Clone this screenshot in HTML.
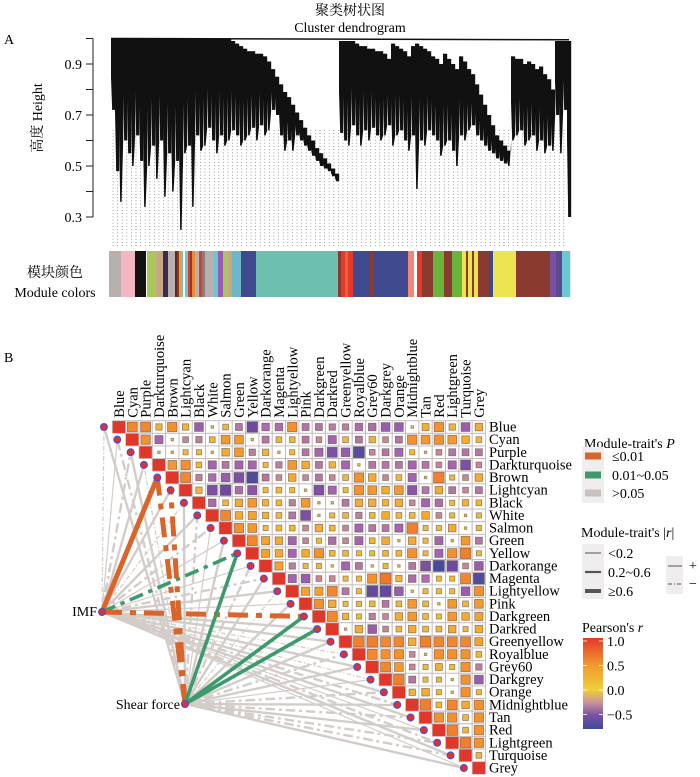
<!DOCTYPE html>
<html><head><meta charset="utf-8"><style>
html,body{margin:0;padding:0;background:#fff;}
svg{display:block;font-family:"Liberation Serif","Noto Serif CJK SC",serif;}
</style></head><body>
<svg id="fig" width="700" height="777" viewBox="0 0 700 777" xmlns="http://www.w3.org/2000/svg">
<defs>
<linearGradient id="cbar" x1="0" y1="0" x2="0" y2="1">
<stop offset="0" stop-color="#e2382b"/><stop offset="0.3" stop-color="#f29a2e"/>
<stop offset="0.57" stop-color="#efcf3c"/><stop offset="0.72" stop-color="#c38fa0"/>
<stop offset="0.85" stop-color="#7a50a2"/><stop offset="1" stop-color="#3c4c9c"/>
</linearGradient>
</defs>
<g id="dendro"></g>
<g id="heat"></g>
<g id="legend"></g>
</svg>
<script>
const NS="http://www.w3.org/2000/svg";
function mk(parent,tag,attrs,text){const e=document.createElementNS(NS,tag);for(const k in attrs)e.setAttribute(k,attrs[k]);if(text!==undefined)e.textContent=text;parent.appendChild(e);return e;}

/* ---------- Dendrogram data ---------- */
const leftBottoms=[.72,.48,.36,.60,.55,.50,.62,.52,.34,.50,.58,.45,.60,.38,.55,.40,.52,.25,.55,.58,.34,.62,.56,.58,.65,.60,.55,.62,.58,.60,.64,.62,.58,.60,.62,.65,.60,.66,.62,.64,.72,.70,.62,.56,.60,.56,.62,.60,.58,.56,.54,.52,.50,.49,.48,.46,.44];
const leftTops=[1,1,1,1,1,1,1,1,1,1,1,1,1,1,1,1,1,1,1,1,1,1,1,1,1,1,1,1,1,1,.99,.98,.97,.96,.95,.95,.94,.94,.93,.91,.88,.85,.82,.79,.77,.74,.71,.68,.65,.62,.60,.57,.55,.53,.51,.49,.47];
const rightBottoms=[.63,.60,.58,.66,.62,.58,.64,.60,.65,.62,.60,.62,.66,.58,.62,.64,.60,.56,.62,.41,.60,.58,.64,.62,.60,.54,.58,.60,.56,.50,.62,.60,.64,.66,.62,.60,.58,.56,.55,.53,.52,.51,.50,.60,.62,.64,.58,.60,.62,.56,.60,.55,.58,.56,.70,.55,.72,.30];
const rightTops=[.99,.99,.99,.99,.98,.97,.97,.96,.96,.95,.95,.94,.92,.98,.97,.96,.95,.93,.97,.98,.97,.96,.95,.93,.92,.90,.94,.92,.90,.88,.93,.91,.88,.86,.82,.78,.74,.70,.66,.62,.60,.58,.56,.93,.92,.92,.90,.91,.90,.88,.89,.86,.84,.80,.99,.99,.99,.99];
const yTicks=[0.3,0.4,0.5,0.6,0.7,0.8,0.9,1.0];
const yTickLabels=["0.3","0.5","0.7","0.9"];
const colorSegs=[[109,121,"#b8b0ae"],[121,135,"#f4b6c2"],[135,146,"#141210"],[146,147,"#fff"],[147,156,"#a8c85a"],[156,163,"#c8a882"],[163,168,"#3c2a50"],[168,175,"#b8b0ae"],[175,177,"#5a2a20"],[177,179,"#8b3a2f"],[179,181,"#f39a2e"],[181,183,"#6cc8d0"],[183,185,"#fff"],[185,188,"#6cc8d0"],[188,190,"#e23a2c"],[190,192,"#8b3a2f"],[192,195,"#f08a30"],[195,199,"#b8b0ae"],[199,202,"#e23a2c"],[202,205,"#8b8080"],[205,214,"#b8b0ae"],[214,218,"#6cc8d0"],[218,223,"#9b59b6"],[223,228,"#a8c85a"],[228,232,"#c8a882"],[232,241,"#6cb8c8"],[241,256,"#3f4a8e"],[256,338,"#6dbfb0"],[338,341,"#8b3a2f"],[341,345,"#e23a2c"],[345,348,"#f06030"],[348,353,"#e23a2c"],[353,370,"#3f4a8e"],[370,374,"#8b3a2f"],[374,408,"#3f4a8e"],[408,414,"#f08878"],[414,417,"#fff"],[417,422,"#e23a2c"],[422,433,"#8b3a2f"],[433,444,"#6ab43c"],[444,452,"#8b3a2f"],[452,462,"#6ab43c"],[462,466,"#ebe34f"],[466,468,"#8b3a2f"],[468,472,"#ebe34f"],[472,474,"#8b3a2f"],[474,478,"#ebe34f"],[478,482,"#8b3a2f"],[482,489,"#8b3a2f"],[489,493,"#3f4a8e"],[493,516,"#ebe34f"],[516,550,"#8b3a2f"],[550,556,"#7a50a2"],[556,562,"#5a4a8e"],[562,570,"#6cc8d0"]];

const D=document.getElementById('dendro');
const hy=h=>38.5+(1-h)*255;
mk(D,'text',{x:350,y:15,'text-anchor':'middle','font-size':14,},'聚类树状图');
mk(D,'text',{x:350,y:32,'text-anchor':'middle','font-size':14,},'Cluster dendrogram');
mk(D,'text',{x:4,y:44,'font-size':14,},'A');
const dots=mk(D,'g',{});
for(let x=113;x<=568;x+=4.6){mk(dots,'line',{x1:x,y1:130,x2:x,y2:248,stroke:'#777','stroke-width':0.7,'stroke-dasharray':'1,2.2'});}
const tree=mk(D,'g',{});
function bar(x,t,b,bNext){
  // tapered bar: full width near top, spike toward the bottom
  const mid=t+(b-t)*0.55;
  const p=`${x},${hy(t)} ${x+4.2},${hy(t)} ${x+4.2},${hy(Math.max(b,bNext))} ${x+2.6},${hy(b)} ${x+1.2},${hy(b)} ${x},${hy(mid)}`;
  mk(tree,'polygon',{points:p,fill:'#111'});
  mk(tree,'line',{x1:x+1.9,y1:hy(t),x2:x+1.9,y2:hy(b),stroke:'#111','stroke-width':1.2});
}
leftBottoms.forEach((b,i)=>{bar(111+4*i,leftTops[i],b,leftBottoms[i+1]!==undefined?leftBottoms[i+1]:b);});
rightBottoms.forEach((b,i)=>{bar(339+4*i,rightTops[i],b,rightBottoms[i+1]!==undefined?rightBottoms[i+1]:b);});
mk(tree,'line',{x1:111,y1:hy(1),x2:569,y2:hy(0.995),stroke:'#111','stroke-width':1.5});
const ax=mk(D,'g',{});
mk(ax,'line',{x1:93,y1:hy(1),x2:93,y2:hy(0.3),stroke:'#222','stroke-width':1});
yTicks.forEach(v=>{mk(ax,'line',{x1:86,y1:hy(v),x2:93,y2:hy(v),stroke:'#222','stroke-width':1});});
yTickLabels.forEach(s=>{const t=mk(ax,'text',{x:82,y:hy(parseFloat(s))+5,'text-anchor':'end','font-size':14},s);

});
mk(ax,'text',{x:0,y:0,transform:'translate(42,118) rotate(-90)','text-anchor':'middle','font-size':14,},'高度  Height');
const cb=mk(D,'g',{});
colorSegs.forEach(s=>{const r=mk(cb,'rect',{x:s[0],y:251,width:s[1]-s[0]+0.3,height:46,fill:s[2]});

});
mk(D,'text',{x:55,y:277,'text-anchor':'middle','font-size':14,},'模块颜色');
mk(D,'text',{x:55,y:297,'text-anchor':'middle','font-size':14,},'Module colors');

/* ---------- Correlation heatmap data ---------- */
const modules=["Blue","Cyan","Purple","Darkturquoise","Brown","Lightcyan","Black","White","Salmon","Green","Yellow","Darkorange","Magenta","Lightyellow","Pink","Darkgreen","Darkred","Greenyellow","Royalblue","Grey60","Darkgrey","Orange","Midnightblue","Tan","Red","Lightgreen","Turquoise","Grey"];
const corrRows=[
[.5,.5,.2,.45,.2,-.4,.05,.15,-.25,-.55,-.3,-.3,.45,-.25,-.25,-.2,-.2,-.3,-.3,-.4,-.4,.03,.25,.45,.2,-.4,.3],
[.45,-.35,.05,-.15,-.2,.15,.4,.4,.05,-.25,.15,.15,-.25,-.15,-.35,.15,-.25,.2,-.15,-.25,.45,.4,.45,.4,.3,.15],
[.05,.05,.1,.1,.05,.3,.4,-.2,.2,.05,.1,-.25,-.35,-.5,-.4,-.65,-.15,-.25,-.35,.1,.03,-.15,-.25,-.25,-.25],
[.4,.45,.15,-.35,-.25,-.35,-.35,.1,-.2,.4,.3,-.25,.2,-.35,.05,-.25,-.25,-.25,-.35,-.25,-.15,-.35,-.5,-.15],
[.5,-.2,-.3,-.4,-.5,-.7,-.25,-.15,.3,-.15,-.25,-.15,.15,.45,.3,-.15,.15,-.35,.05,.55,.1,-.15,.3],
[.2,-.5,-.55,-.3,-.45,.1,.15,.1,.05,-.5,-.35,.1,.45,.4,.3,.4,-.45,-.25,.3,-.25,-.15,-.25],
[-.3,.15,.3,.4,.2,.15,-.2,.4,.03,.05,-.25,.3,.3,.2,.3,-.15,-.35,-.3,.1,.2,.15],
[.5,.3,.35,.2,.15,-.25,-.5,.05,.1,.15,-.2,.15,.3,.15,.15,.3,-.15,.1,.03,.1],
[.45,.4,.1,.15,.15,-.15,.3,.15,-.15,-.35,-.25,-.25,-.35,.55,.1,.1,.3,.05,.1],
[.5,.35,.3,-.35,-.15,.1,-.3,-.15,-.35,.15,.3,.03,.3,.1,-.35,.03,.4,-.25],
[.35,.3,-.35,.3,.45,.15,.15,.1,.1,.15,.15,.45,.1,-.35,.45,.55,.1],
[.35,-.2,.1,.1,.03,-.35,-.25,.03,.1,.03,-.25,-.5,-.75,-.55,-.15,-.4],
[-.35,-.4,-.15,-.15,.1,.1,.45,.6,.2,-.3,-.3,.1,.1,.5,-.7],
[.35,.35,.5,-.25,.1,-.6,-.6,-.4,.03,.1,.1,.1,-.4,.45],
[.45,.3,.1,.1,.15,-.25,.15,.4,.15,.05,.4,.15,.4],
[.5,.2,.1,-.2,-.15,.3,.4,.15,.1,.4,.3,.35],
[.03,.3,-.4,-.15,.15,.3,.15,.15,.3,.1,.3],
[.55,.55,.5,.5,.3,.55,.5,.5,.5,.35],
[.5,.45,.45,-.15,.03,.45,.45,.45,.15],
[.5,.4,-.15,.1,.25,.1,.45,-.2],
[.55,-.25,.1,.1,.05,.45,-.4],
[.2,.3,.1,.05,.45,.1],
[.55,.15,.5,.3,.45],
[.45,.45,.15,.45],
[.55,.15,.45],
[.55,.45],
[.15],
[]];
const imfR=[-.15,.1,-.3,.25,.65,.2,-.1,.3,-.25,.15,-.4,.1,-.2,.3,.15,-.62,.2,.25,-.15,.3,-.1,.2,-.3,.25,.1,-.2,.3,.15];
const imfP=[2,2,2,2,0,2,2,2,2,2,1,2,2,2,2,0,2,2,2,2,2,2,2,2,2,2,2,2];
const shearR=[.2,-.3,.25,-.15,-.65,-.62,.2,-.25,.15,.3,.55,-.2,.25,-.1,.3,.55,.55,.2,-.3,.25,.15,-.35,.2,-.25,.3,-.2,-.3,.25];
const shearP=[2,2,2,2,0,0,2,2,2,2,1,2,2,2,2,1,1,2,2,2,2,2,2,2,2,2,2,2];
const pearsonTicks=[1.0,0.5,0.0,-0.5];
const pearsonTickLabels=["1.0","0.5","0.0","−0.5"];

const H=document.getElementById('heat');
const N=modules.length, gx=112.3, gy=420.7, cw=13.33, ch=12.63;
const cx=j=>gx+cw*j+cw/2, cy=i=>gy+ch*i+ch/2;
const stops=[[-0.8,[60,76,156]],[-0.55,[110,74,156]],[-0.35,[164,100,176]],[-0.15,[196,136,150]],[0,[242,196,54]],[0.3,[245,170,48]],[0.55,[240,128,44]],[0.8,[232,92,44]],[1,[224,56,42]]];
function col(v){v=Math.max(-0.8,Math.min(1,v));for(let k=0;k<stops.length-1;k++){const a=stops[k],b=stops[k+1];if(v<=b[0]){const t=(v-a[0])/(b[0]-a[0]);const c=a[1].map((x,m)=>Math.round(x+(b[1][m]-x)*t));return `rgb(${c[0]},${c[1]},${c[2]})`;}}return 'rgb(224,56,42)';}
mk(H,'text',{x:4,y:362,'font-size':14,},'B');
const grid=mk(H,'g',{});
for(let i=0;i<N;i++){
  const dg=mk(grid,'rect',{x:gx+cw*i,y:gy+ch*i,width:cw,height:ch,fill:'#e0372b',stroke:'#c9bfbf','stroke-width':0.8});
  
  
  corrRows[i].forEach((v,k)=>{const j=i+1+k;
    mk(grid,'rect',{x:gx+cw*j,y:gy+ch*i,width:cw,height:ch,fill:'#fff',stroke:'#c4baba','stroke-width':0.9});
    const a=Math.abs(v);
    const s=a<0.06?2.5:Math.min(11,4+12*a);
    const sq=mk(grid,'rect',{x:cx(j)-s/2,y:cy(i)-s/2,width:s,height:s,fill:col(v),stroke:'rgba(90,70,70,0.6)','stroke-width':0.8});
    
    
  });
}
modules.forEach((m,j)=>{
  const t=mk(H,'text',{x:0,y:0,transform:`translate(${cx(j)+5},${gy-3}) rotate(-90)`,'font-size':14.5},m);
  
  
  const r=mk(H,'text',{x:489,y:cy(j)+4.5,'font-size':14.5},m);
  
  
});
const IMF=[102,612], SF=[185,704];
const dotX=j=>cx(j)-15;
const pColor=['#d9652b','#3c9a6c','#d3cdca'];
function width(r,colored){const a=Math.abs(r);return a<0.2?1.2:(a<0.6?(colored?3.6:2.4):5);}
const eg=mk(H,'g',{});
function drawEdges(src,R,P,pass){
  R.forEach((r,j)=>{
    const colored=P[j]<2; if(colored!==pass) return;
    const w=width(r,colored);
    const a={x1:src[0],y1:src[1],x2:dotX(j),y2:cy(j),stroke:pColor[P[j]],'stroke-width':w,'stroke-linecap':'butt'};
    if(r<0) a['stroke-dasharray']=`${4*w},${1.6*w},${1.2*w},${1.6*w}`;
    const l=mk(eg,'line',a);
    
    
  });
}
drawEdges(IMF,imfR,imfP,false);drawEdges(SF,shearR,shearP,false);
drawEdges(IMF,imfR,imfP,true);drawEdges(SF,shearR,shearP,true);
modules.forEach((m,j)=>{const c=mk(H,'circle',{cx:dotX(j),cy:cy(j),r:3.4,fill:'#e5302a',stroke:'#4a50d0','stroke-width':1.2});

});
[IMF,SF].forEach(p=>{mk(H,'circle',{cx:p[0],cy:p[1],r:3.4,fill:'#e5302a',stroke:'#4a50d0','stroke-width':1.2,});});
mk(H,'text',{x:97,y:616,'text-anchor':'end','font-size':14,},'IMF');
mk(H,'text',{x:180,y:709,'text-anchor':'end','font-size':14,},'Shear force');

const L=document.getElementById('legend');
const lp=mk(L,'g',{});
const tP=mk(lp,'text',{x:584,y:448,'font-size':14});tP.textContent="Module-trait's ";mk(tP,'tspan',{'font-style':'italic'},'P');
mk(lp,'rect',{x:582,y:447,width:22,height:56,fill:'#efeded'});
[['≤0.01','#d9652b',456],['0.01~0.05','#3c9a6c',475],['>0.05','#c9c1bd',493]].forEach(d=>{
  mk(lp,'rect',{x:585,y:d[2]-3.5,width:16,height:7,fill:d[1]});
  mk(lp,'text',{x:612,y:d[2]+5,'font-size':14},d[0]);});
const lr=mk(L,'g',{});
const tR=mk(lr,'text',{x:581,y:537,'font-size':14});tR.textContent="Module-trait's |";mk(tR,'tspan',{'font-style':'italic'},'r');tR.appendChild(document.createTextNode('|'));
mk(lr,'rect',{x:582,y:544,width:22,height:55,fill:'#efeded'});
[['<0.2',1,553],['0.2~0.6',2.2,572],['≥0.6',4,591]].forEach(d=>{
  mk(lr,'line',{x1:585,y1:d[2],x2:601,y2:d[2],stroke:'#555','stroke-width':d[1]});
  mk(lr,'text',{x:608,y:d[2]+5,'font-size':14},d[0]);});
mk(lr,'rect',{x:666,y:556,width:17,height:38,fill:'#efeded'});
mk(lr,'line',{x1:668,y1:566,x2:682,y2:566,stroke:'#555','stroke-width':1});
mk(lr,'line',{x1:668,y1:584,x2:682,y2:584,stroke:'#555','stroke-width':1,'stroke-dasharray':'4,2,1,2'});
mk(lr,'text',{x:689,y:570,'font-size':14},'+');
mk(lr,'text',{x:689,y:588,'font-size':14},'−');
const lc=mk(L,'g',{});
const tC=mk(lc,'text',{x:582,y:632,'font-size':14});tC.textContent="Pearson's ";mk(tC,'tspan',{'font-style':'italic'},'r');
mk(lc,'rect',{x:583,y:638,width:20,height:91,fill:'url(#cbar)'});
const cbY=v=>690-v*49;
pearsonTicks.forEach((v,k)=>{
  mk(lc,'line',{x1:583,y1:cbY(v),x2:587,y2:cbY(v),stroke:'#fff','stroke-width':0.8});
  mk(lc,'line',{x1:599,y1:cbY(v),x2:603,y2:cbY(v),stroke:'#fff','stroke-width':0.8});
  const t=mk(lc,'text',{x:607,y:cbY(v)+5,'font-size':14},pearsonTickLabels[k]);
  
  
});
</script>
</body></html>
